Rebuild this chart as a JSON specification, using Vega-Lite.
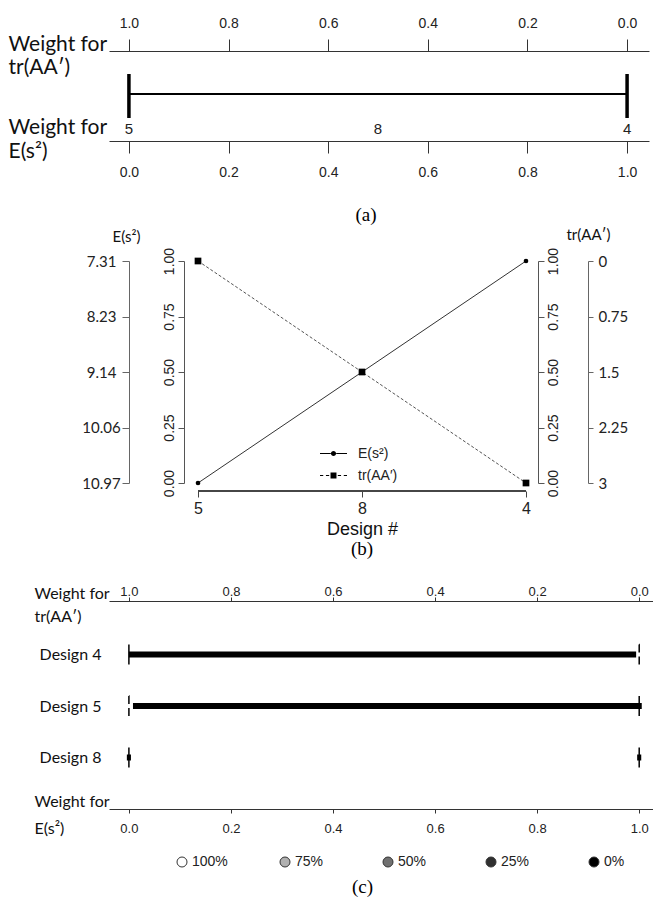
{
  "$schema": "https://vega.github.io/schema/vega-lite/v6.json",
  "background": "white",
  "padding": {"left": 8, "top": 16, "right": 0, "bottom": 0},
  "bounds": "flush",
  "spacing": 120,
  "datasets": {
    "optimal": [
      {"design": "5", "wE": 0},
      {"design": "8", "wE": 0.5},
      {"design": "4", "wE": 1}
    ],
    "criteria": [
      {"design": "5", "series": "E(s²)", "score": 0, "raw": 10.97},
      {"design": "8", "series": "E(s²)", "score": 0.5, "raw": 9.14},
      {"design": "4", "series": "E(s²)", "score": 1, "raw": 7.31},
      {"design": "5", "series": "tr(AA′)", "score": 1, "raw": 0},
      {"design": "8", "series": "tr(AA′)", "score": 0.5, "raw": 1.5},
      {"design": "4", "series": "tr(AA′)", "score": 0, "raw": 3}
    ],
    "bars": [
      {"design": "Design 4", "start": 0, "end": 0.994, "level": "0%"},
      {"design": "Design 5", "start": 0.008, "end": 1.005, "level": "0%"},
      {"design": "Design 8", "start": -0.004, "end": 0.004, "level": "0%"},
      {"design": "Design 8", "start": 0.996, "end": 1.004, "level": "0%"}
    ],
    "ticks": [
      {"design": "Design 4", "w": 0, "style": "solid"},
      {"design": "Design 4", "w": 1, "style": "dashed"},
      {"design": "Design 5", "w": 0, "style": "dashed"},
      {"design": "Design 5", "w": 1, "style": "solid"},
      {"design": "Design 8", "w": 0, "style": "solid"},
      {"design": "Design 8", "w": 1, "style": "solid"}
    ]
  },
  "vconcat": [
    {
      "width": 540,
      "height": 90,
      "data": {"name": "optimal"},
      "title": {"text": "(a)", "orient": "bottom", "anchor": "middle", "dx": -13, "offset": 27, "font": "Liberation Serif", "fontSize": 19, "fontWeight": "normal", "color": "#000"},
      "layer": [
        {
          "mark": {"type": "rule", "color": "#000", "strokeWidth": 2, "yOffset": -2},
          "encoding": {
            "x": {"aggregate": "min", "field": "wE", "type": "quantitative", "scale": {"domain": [-0.04, 1.044], "nice": false, "zero": false}, "axis": null},
            "x2": {"aggregate": "max", "field": "wE"},
            "y": {"datum": 0.5, "type": "quantitative", "scale": {"domain": [0, 1], "nice": false, "zero": false}, "axis": null}
          }
        },
        {
          "transform": [{"filter": "datum.design != '8'"}],
          "mark": {"type": "tick", "color": "#000", "opacity": 1, "thickness": 3.5, "size": 44},
          "encoding": {
            "x": {"field": "wE", "type": "quantitative", "scale": {"domain": [-0.04, 1.044], "nice": false, "zero": false},
              "axis": {"orient": "bottom", "values": [0, 0.2, 0.4, 0.6, 0.8, 1], "format": ".1f", "labelFlush": false, "tickSize": 12, "labelPadding": 12, "labelFont": "Liberation Sans", "labelFontSize": 14, "domainColor": "#333", "tickColor": "#333",
                "title": ["Weight for", "E(s²)"], "titleFont": "Lato", "titleFontSize": 21, "titleAlign": "left", "titleAnchor": "start", "titleBaseline": "alphabetic", "titleX": -101, "titleY": -8, "titleLineHeight": 24}},
            "y": {"datum": 0.5, "type": "quantitative", "scale": {"domain": [0, 1], "nice": false, "zero": false}, "axis": null}
          }
        },
        {
          "mark": {"type": "text", "dy": 33, "font": "Liberation Sans", "fontSize": 15, "color": "#222"},
          "encoding": {
            "x": {"field": "wE", "type": "quantitative", "scale": {"domain": [-0.04, 1.044], "nice": false, "zero": false},
              "axis": {"orient": "top", "values": [0, 0.2, 0.4, 0.6, 0.8, 1], "labelExpr": "format(1 - datum.value, '.1f')", "labelFlush": false, "tickSize": 12, "labelPadding": 9, "labelFont": "Liberation Sans", "labelFontSize": 14, "domainColor": "#333", "tickColor": "#333",
                "title": ["Weight for", "tr(AA′)"], "titleFont": "Lato", "titleFontSize": 21, "titleAlign": "left", "titleAnchor": "start", "titleBaseline": "alphabetic", "titleX": -101, "titleY": -1, "titleLineHeight": 23}},
            "y": {"datum": 0.5, "type": "quantitative", "scale": {"domain": [0, 1], "nice": false, "zero": false}, "axis": null},
            "text": {"field": "design"}
          }
        }
      ],
      "resolve": {"axis": {"x": "independent"}}
    },
    {
      "width": 506,
      "height": 222,
      "data": {"name": "criteria"},
      "title": {"text": "(b)", "orient": "bottom", "anchor": "middle", "offset": 2, "font": "Liberation Serif", "fontSize": 19, "fontWeight": "normal", "color": "#000"},
      "encoding": {
        "x": {"field": "design", "type": "ordinal", "scale": {"type": "point", "padding": 0.5427, "domain": ["5", "8", "4"]},
          "axis": {"orient": "bottom", "offset": 8, "domain": false, "tickSize": 6, "labelPadding": 3, "labelAngle": 0, "labelFont": "Liberation Sans", "labelFontSize": 16, "title": "Design #", "titleFont": "Liberation Sans", "titleFontSize": 18, "titlePadding": 4}}
      },
      "layer": [
        {
          "mark": {"type": "rule", "color": "#444", "yOffset": 8},
          "encoding": {
            "x": {"datum": "5"},
            "x2": {"datum": "4"},
            "y": {"datum": 0, "type": "quantitative", "scale": {"domain": [0, 1], "nice": false, "zero": false}, "axis": null}
          }
        },
        {
          "transform": [{"filter": {"field": "series", "equal": "E(s²)"}}],
          "mark": {"type": "line", "color": "#333", "strokeWidth": 1},
          "encoding": {
            "y": {"field": "score", "type": "quantitative", "scale": {"domain": [0, 1], "nice": false, "zero": false},
              "axis": {"orient": "left", "offset": -75, "values": [0, 0.25, 0.5, 0.75, 1], "format": ".2f", "labelAngle": -90, "tickSize": 6, "labelPadding": 2, "labelFont": "Liberation Sans", "labelFontSize": 14, "title": null, "domainColor": "#555", "tickColor": "#555"}},
            "order": {"value": null}
          }
        },
        {
          "transform": [{"filter": {"field": "series", "equal": "tr(AA′)"}}],
          "mark": {"type": "line", "color": "#555", "strokeWidth": 1, "strokeDash": [3, 2]},
          "encoding": {
            "y": {"field": "score", "type": "quantitative", "scale": {"domain": [0, 1], "nice": false, "zero": false},
              "axis": {"orient": "right", "offset": -77, "values": [0, 0.25, 0.5, 0.75, 1], "format": ".2f", "labelAngle": -90, "tickSize": 6, "labelPadding": 2, "labelFont": "Liberation Sans", "labelFontSize": 14, "title": null, "domainColor": "#555", "tickColor": "#555"}},
            "order": {"value": null}
          }
        },
        {
          "transform": [{"filter": {"field": "series", "equal": "E(s²)"}}],
          "mark": {"type": "point", "opacity": 0},
          "encoding": {
            "y": {"field": "raw", "type": "quantitative", "scale": {"domain": [7.31, 10.97], "reverse": true, "nice": false, "zero": false},
              "axis": {"orient": "left", "offset": -20, "values": [7.31, 8.23, 9.14, 10.06, 10.97], "format": ".2f", "tickSize": 7, "labelPadding": 21, "labelAlign": "center", "labelFont": "Lato", "labelFontSize": 15, "domainColor": "#666", "tickColor": "#666",
                "title": "E(s²)", "titleAngle": 0, "titleX": -3, "titleY": -25, "titleAlign": "center", "titleBaseline": "middle", "titleFont": "Lato", "titleFontSize": 15}}
          }
        },
        {
          "transform": [{"filter": {"field": "series", "equal": "tr(AA′)"}}],
          "mark": {"type": "point", "opacity": 0},
          "encoding": {
            "y": {"field": "raw", "type": "quantitative", "scale": {"domain": [0, 3], "reverse": true, "nice": false, "zero": false},
              "axis": {"orient": "right", "offset": -27, "values": [0, 0.75, 1.5, 2.25, 3], "format": ".3~g", "tickSize": 5, "labelPadding": 5, "labelFont": "Lato", "labelFontSize": 15, "domainColor": "#666", "tickColor": "#666",
                "title": "tr(AA′)", "titleAngle": 0, "titleX": 0, "titleY": -27, "titleAlign": "center", "titleBaseline": "middle", "titleFont": "Lato", "titleFontSize": 15}}
          }
        },
        {
          "transform": [{"filter": {"field": "series", "equal": "E(s²)"}}],
          "mark": {"type": "point", "shape": "circle", "filled": true, "color": "#000", "size": 22, "opacity": 1},
          "encoding": {
            "y": {"field": "score", "type": "quantitative", "scale": {"domain": [0, 1], "nice": false, "zero": false}, "axis": null}
          }
        },
        {
          "transform": [{"filter": {"field": "series", "equal": "tr(AA′)"}}],
          "mark": {"type": "point", "shape": "square", "filled": true, "color": "#000", "size": 45, "opacity": 1},
          "encoding": {
            "y": {"field": "score", "type": "quantitative", "scale": {"domain": [0, 1], "nice": false, "zero": false}, "axis": null}
          }
        },
        {
          "mark": {"type": "point", "filled": true, "color": "#000", "size": 729, "opacity": 0},
          "encoding": {
            "y": {"field": "score", "type": "quantitative", "scale": {"domain": [0, 1], "nice": false, "zero": false}, "axis": null},
            "shape": {"field": "series", "type": "nominal",
              "scale": {"domain": ["E(s²)", "tr(AA′)"], "range": ["M-1,-0.045H-0.2V0.045H-1Z M0.2,-0.045H1V0.045H0.2Z M0.19,0A0.19,0.19,0,1,1,-0.19,0A0.19,0.19,0,1,1,0.19,0Z", "M-1,-0.045H-0.76V0.045H-1Z M-0.56,-0.045H-0.32V0.045H-0.56Z M0.32,-0.045H0.56V0.045H0.32Z M0.76,-0.045H1V0.045H0.76Z M-0.22,-0.22H0.22V0.22H-0.22Z"]},
              "legend": {"orient": "none", "legendX": 210, "legendY": 388, "direction": "vertical", "symbolSize": 729, "rowPadding": -10, "labelOffset": 10, "labelFont": "Liberation Sans", "labelFontSize": 14, "labelColor": "#222", "title": null,
                "encode": {"symbols": {"update": {"fill": {"value": "#000"}, "opacity": {"value": 1}}}}}}
          }
        }
      ],
      "resolve": {"scale": {"y": "independent"}}
    },
    {
      "width": 545,
      "height": 206,
      "title": {"text": "(c)", "orient": "bottom", "anchor": "middle", "dx": -19, "offset": 42, "font": "Liberation Serif", "fontSize": 19, "fontWeight": "normal", "color": "#000"},
      "encoding": {
        "y": {"field": "design", "type": "nominal", "scale": {"type": "point", "padding": 1, "domain": ["Design 4", "Design 5", "Design 8"]},
          "axis": {"orient": "left", "domain": false, "ticks": false, "labelPadding": 8, "labelFont": "Lato", "labelFontSize": 16, "labelColor": "#111", "title": null}}
      },
      "layer": [
        {
          "data": {"name": "bars"},
          "mark": {"type": "bar", "height": 6, "color": "#000"},
          "encoding": {
            "x": {"field": "start", "type": "quantitative", "scale": {"domain": [-0.039, 1.029], "nice": false, "zero": false},
              "axis": {"orient": "bottom", "values": [0, 0.2, 0.4, 0.6, 0.8, 1], "format": ".1f", "labelFlush": false, "tickSize": 4, "labelPadding": 9, "labelFont": "Liberation Sans Narrow, Liberation Sans", "labelFontSize": 13, "domainColor": "#333", "tickColor": "#333",
                "title": ["Weight for", "E(s²)"], "titleFont": "Lato", "titleFontSize": 16, "titleAlign": "left", "titleAnchor": "start", "titleBaseline": "alphabetic", "titleX": -75, "titleY": -3, "titleLineHeight": 27}},
            "x2": {"field": "end"},
            "fill": {"field": "level", "type": "ordinal", "scale": {"domain": ["100%", "75%", "50%", "25%", "0%"], "range": ["#ffffff", "#b0b0b0", "#707070", "#303030", "#000000"]},
              "legend": {"orient": "none", "legendX": 66, "legendY": 804, "direction": "horizontal", "columns": 5, "gridAlign": "all", "columnPadding": 50, "symbolType": "circle", "symbolSize": 100, "labelFont": "Liberation Sans Narrow, Liberation Sans", "labelFontSize": 14, "labelOffset": 3, "labelColor": "#222", "title": null,
                "encode": {"symbols": {"update": {"stroke": {"value": "#333"}, "strokeWidth": {"value": 1}, "opacity": {"value": 1}}}}}}
          }
        },
        {
          "data": {"name": "ticks"},
          "transform": [{"filter": "datum.style == 'solid'"}],
          "mark": {"type": "tick", "color": "#000", "opacity": 1, "thickness": 1.5, "size": 20},
          "encoding": {
            "x": {"field": "w", "type": "quantitative", "scale": {"domain": [-0.039, 1.029], "nice": false, "zero": false},
              "axis": {"orient": "top", "offset": 2, "values": [0, 0.2, 0.4, 0.6, 0.8, 1], "labelExpr": "format(1 - datum.value, '.1f')", "labelFlush": false, "tickSize": 4, "labelPadding": -1, "labelFont": "Liberation Sans Narrow, Liberation Sans", "labelFontSize": 13, "domainColor": "#333", "tickColor": "#333",
                "title": ["Weight for", "tr(AA′)"], "titleFont": "Lato", "titleFontSize": 16, "titleAlign": "left", "titleAnchor": "start", "titleBaseline": "alphabetic", "titleX": -75, "titleY": -3, "titleLineHeight": 23}}
          }
        },
        {
          "data": {"name": "ticks"},
          "transform": [{"filter": "datum.style == 'dashed'"}],
          "mark": {"type": "tick", "filled": false, "color": "#000", "opacity": 1, "strokeWidth": 1.5, "strokeDash": [8, 4, 8, 20], "thickness": 0.01, "size": 20},
          "encoding": {
            "x": {"field": "w", "type": "quantitative", "scale": {"domain": [-0.039, 1.029], "nice": false, "zero": false}, "axis": null}
          }
        }
      ],
      "resolve": {"axis": {"x": "independent"}}
    }
  ],
  "config": {
    "view": {"stroke": null},
    "font": "Liberation Sans",
    "axis": {"grid": false, "labelColor": "#222", "titleColor": "#111", "titleFontWeight": "normal", "domainColor": "#444", "tickColor": "#444"},
    "legend": {"padding": 0}
  }
}
